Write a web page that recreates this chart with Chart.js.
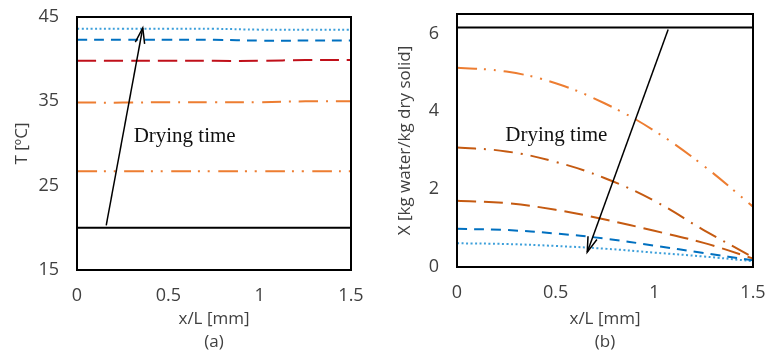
<!DOCTYPE html>
<html>
<head>
<meta charset="utf-8">
<script src="https://cdn.jsdelivr.net/npm/chart.js@4"></script>
<style>
  body { margin: 0; background: #fff; width: 767px; height: 358px; overflow: hidden; position: relative; }
  canvas { position: absolute; top: 0; }
  #chartA { left: 0; }
  #chartB { left: 383px; }
</style>
</head>
<body>
<canvas id="chartA" width="383" height="358"></canvas>
<canvas id="chartB" width="384" height="358"></canvas>
<script>
// x/L positions shared by every curve
const xPos = [0, 0.25, 0.5, 0.75, 1, 1.25, 1.5];
const xTicks = [0, 0.5, 1, 1.5];

// (a) temperature profiles [ºC], earliest first
const tempTicks = [15, 25, 35, 45];
const temp0 = [20, 20, 20, 20, 20, 20, 20];
const temp1 = [26.7, 26.7, 26.7, 26.7, 26.7, 26.7, 26.7];
const temp2 = [34.85, 34.85, 34.9, 34.9, 34.9, 35.0, 35.0];
const temp3 = [39.8, 39.8, 39.8, 39.8, 39.8, 39.9, 39.9];
const temp4 = [42.3, 42.3, 42.3, 42.3, 42.2, 42.2, 42.2];
const temp5 = [43.6, 43.6, 43.6, 43.6, 43.5, 43.5, 43.5];

// (b) moisture profiles [kg water/kg dry solid], earliest first
const moistTicks = [0, 2, 4, 6];
const moist0 = [6.15, 6.15, 6.15, 6.15, 6.15, 6.15, 6.15];
const moist1 = [5.12, 5.02, 4.72, 4.2, 3.5, 2.6, 1.55];
const moist2 = [3.07, 2.97, 2.7, 2.28, 1.7, 0.95, 0.25];
const moist3 = [1.70, 1.64, 1.47, 1.22, 0.93, 0.62, 0.22];
const moist4 = [0.98, 0.95, 0.86, 0.73, 0.55, 0.36, 0.17];
const moist5 = [0.61, 0.59, 0.54, 0.47, 0.37, 0.27, 0.15];

// "Drying time" arrows (tail, head) and label anchors, in data units
const arrowA = [[0.16, 20.3], [0.36, 43.7]];
const arrowB = [[1.07, 6.1], [0.66, 0.38]];
const labelA = [0.31, 30.8];
const labelB = [0.245, 3.38];

const textColor = '#404040';
const sans = "'Open Sans', sans-serif";

function series(values, color, dash) {
  return {
    data: xPos.map((x, i) => ({ x: x, y: values[i] })),
    borderColor: color,
    borderDash: dash,
    borderWidth: 2,
    pointRadius: 0,
    fill: false,
    tension: 0.4
  };
}

function arrowSeries(pts) {
  return {
    data: pts.map(p => ({ x: p[0], y: p[1] })),
    borderColor: '#000',
    borderWidth: 1.5,
    pointRadius: 0,
    fill: false,
    isArrow: true
  };
}

// frame round the plot area, arrow heads and the "Drying time" label
const framePlugin = {
  id: 'frame',
  afterDatasetsDraw(chart, args, opts) {
    const ctx = chart.ctx;
    const a = chart.chartArea;
    ctx.save();
    ctx.strokeStyle = '#000';
    ctx.lineWidth = 2;
    ctx.strokeRect(a.left, a.top, a.right - a.left, a.bottom - a.top);

    chart.data.datasets.forEach((ds, i) => {
      if (!ds.isArrow) return;
      const pts = chart.getDatasetMeta(i).data;
      const p1 = pts[0], p2 = pts[pts.length - 1];
      const ang = Math.atan2(p2.y - p1.y, p2.x - p1.x);
      const len = 16, spread = 0.3;
      ctx.lineWidth = 1.5;
      ctx.beginPath();
      ctx.moveTo(p2.x - len * Math.cos(ang - spread), p2.y - len * Math.sin(ang - spread));
      ctx.lineTo(p2.x, p2.y);
      ctx.lineTo(p2.x - len * Math.cos(ang + spread), p2.y - len * Math.sin(ang + spread));
      ctx.stroke();
    });

    if (opts.label) {
      const x = chart.scales.x.getPixelForValue(opts.label[0]);
      const y = chart.scales.y.getPixelForValue(opts.label[1]);
      ctx.fillStyle = '#111';
      ctx.font = "21px 'Liberation Serif', serif";
      ctx.textAlign = 'left';
      ctx.textBaseline = 'middle';
      ctx.fillText('Drying time', x, y);
    }
    ctx.restore();
  }
};

function makeChart(id, cfg) {
  return new Chart(document.getElementById(id), {
    type: 'line',
    data: { datasets: cfg.datasets },
    options: {
      responsive: false,
      animation: false,
      layout: { padding: { top: cfg.top, right: cfg.right, bottom: 0, left: 0 } },
      plugins: {
        legend: { display: false },
        tooltip: { enabled: false },
        frame: { label: cfg.label }
      },
      scales: {
        x: {
          type: 'linear',
          min: 0,
          max: 1.5,
          grid: { display: false, drawTicks: false },
          border: { display: false },
          ticks: { padding: 15, color: textColor, font: { family: sans, size: 18 }, callback: v => String(v) },
          afterBuildTicks: s => { s.ticks = xTicks.map(v => ({ value: v })); },
          afterFit: s => { s.height = cfg.xHeight; s.paddingLeft = 0; s.paddingRight = 0; },
          title: {
            display: true,
            text: cfg.xTitle,
            color: textColor,
            font: { family: sans, size: 17, lineHeight: 1.35 },
            padding: { top: 0, bottom: 4 }
          }
        },
        y: {
          type: 'linear',
          min: cfg.yMin,
          max: cfg.yMax,
          grid: { display: false, drawTicks: false },
          border: { display: false },
          ticks: { padding: 18, color: textColor, font: { family: sans, size: 18 }, callback: v => String(v) },
          afterBuildTicks: s => { s.ticks = cfg.yTicks.map(v => ({ value: v })); },
          afterFit: s => { s.width = cfg.yWidth; s.paddingTop = 0; s.paddingBottom = 0; },
          title: {
            display: true,
            text: cfg.yTitle,
            color: textColor,
            font: { family: sans, size: 17 },
            padding: { top: 12, bottom: 0 }
          }
        }
      }
    },
    plugins: [framePlugin]
  });
}

const orange = '#ED7D31';
const darkOrange = '#C55A11';
const blue = '#0070C0';
const lightBlue = '#3C9FDA';
const red = '#C0101A';

const dashDot = [19, 8, 2, 8];
const dashDotDot = [20, 7, 2, 8, 2, 8];
const longDash = [19, 8];
const dash = [10, 7];
const dot = [2, 2.5];

makeChart('chartA', {
  datasets: [
    arrowSeries(arrowA),
    series(temp0, '#000', []),
    series(temp1, orange, dashDotDot),
    series(temp2, orange, dashDot),
    series(temp3, red, longDash),
    series(temp4, blue, dash),
    series(temp5, lightBlue, dot)
  ],
  label: labelA,
  top: 17, right: 32, xHeight: 88, yWidth: 77,
  yMin: 15, yMax: 45, yTicks: tempTicks,
  xTitle: ['x/L [mm]', '(a)'],
  yTitle: 'T [ºC]'
});

makeChart('chartB', {
  datasets: [
    arrowSeries(arrowB),
    series(moist0, '#000', []),
    series(moist1, orange, dashDotDot),
    series(moist2, darkOrange, dashDot),
    series(moist3, darkOrange, longDash),
    series(moist4, blue, dash),
    series(moist5, lightBlue, dot)
  ],
  label: labelB,
  top: 14, right: 14, xHeight: 91, yWidth: 74,
  yMin: 0, yMax: 6.5, yTicks: moistTicks,
  xTitle: ['x/L [mm]', '(b)'],
  yTitle: 'X [kg water/kg dry solid]'
});
</script>
</body>
</html>
